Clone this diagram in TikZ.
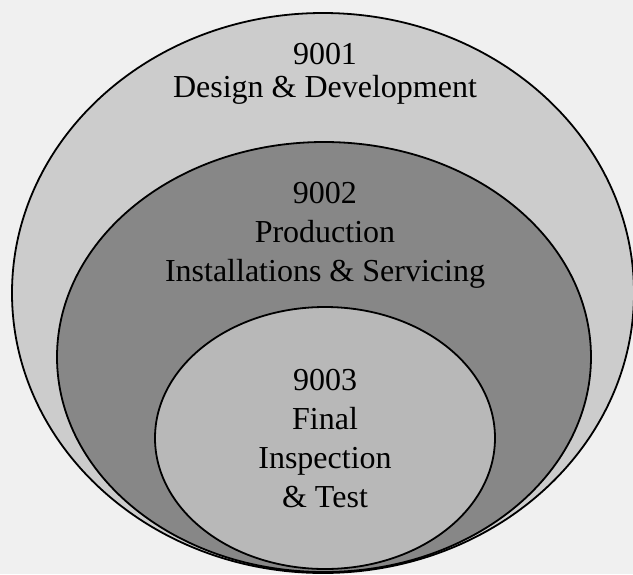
\documentclass[tikz,border=0pt]{standalone}
\usepackage{fontspec}
\setmainfont{Liberation Serif}
\usetikzlibrary{shapes.geometric}

\begin{document}
\begin{tikzpicture} [x=1pt,y=-1pt,line width=1.8pt]
        \tikzstyle{ring}=[ellipse, draw, inner sep = 0mm]
        \tikzstyle{stdtext}=[align=center, inner sep = 0mm, font=\fontsize{32}{39}\selectfont]
        \fill[black!6] (0,0) rectangle (633,574);
        \useasboundingbox (0,0) rectangle (633,574);

        % the three standards, nested
        \node[ring, fill=black!20, minimum width=622pt, minimum height=560pt] (Design) at (323,293) {};
        \node[ring, fill=black!47, minimum width=534pt, minimum height=430pt] (Production) at (324,357) {};
        \node[ring, fill=black!28, minimum width=340pt, minimum height=262pt] (Inspection) at (325,438) {};

        \node[stdtext, font=\fontsize{32}{33}\selectfont] (DesignText) at (325,74) {9001\\Design \& Development};
        \node[stdtext] (ProductionText) at (325,235) {9002\\Production\\Installations \& Servicing};
        \node[stdtext] (InspectionText) at (325,439) {9003\\Final\\Inspection\\\& Test};
      \end{tikzpicture}
\end{document}
